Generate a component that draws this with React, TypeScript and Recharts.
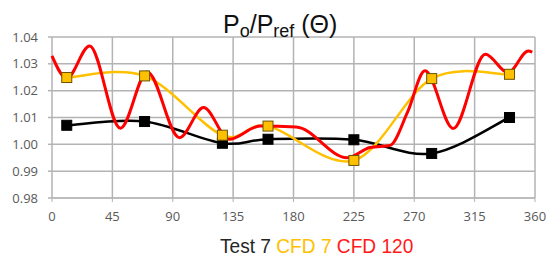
import { LineChart, Line, XAxis, YAxis, CartesianGrid } from "recharts";

// marker angles (deg) shared by Test 7 and CFD 7
const markerAngles = [11, 69, 127, 161, 225, 283, 341];
const test7Values = [1.0071, 1.0085, 1.0004, 1.0019, 1.0017, 0.9966, 1.01];
const cfd7Values = [1.0249, 1.0255, 1.0034, 1.0068, 0.994, 1.0245, 1.0261];

const cfd120Angles = [0, 11, 28, 51, 71, 95, 113, 132, 155, 182, 220, 237, 252, 265, 278, 299, 323, 340, 355, 358];
const cfd120Values = [1.033, 1.0246, 1.0366, 1.006, 1.027, 1.0025, 1.0137, 1.0019, 1.0068, 1.0065, 0.995, 0.9988, 0.9996, 1.012, 1.0274, 1.0059, 1.0336, 1.0267, 1.0348, 1.0344];

const xTicks = [0, 45, 90, 135, 180, 225, 270, 315, 360];
const yTicks = [0.98, 0.99, 1.0, 1.01, 1.02, 1.03, 1.04];

const test7 = markerAngles.map((x, i) => ({ x, v: test7Values[i] }));
const cfd7 = markerAngles.map((x, i) => ({ x, v: cfd7Values[i] }));
const cfd120 = cfd120Angles.map((x, i) => ({ x, v: cfd120Values[i] }));

const GRID = "#b3b3b3";
const LABEL = "#595959";

// Excel-like smoothed line (Catmull-Rom through the points)
function smoothCurve(context: any) {
  let pts: number[][] = [];
  return {
    areaStart() {},
    areaEnd() {},
    lineStart() {
      pts = [];
    },
    point(x: number, y: number) {
      pts.push([+x, +y]);
    },
    lineEnd() {
      if (!pts.length) return;
      context.moveTo(pts[0][0], pts[0][1]);
      for (let i = 0; i < pts.length - 1; i++) {
        const p0 = pts[i - 1] || pts[i];
        const p1 = pts[i];
        const p2 = pts[i + 1];
        const p3 = pts[i + 2] || p2;
        context.bezierCurveTo(
          p1[0] + (p2[0] - p0[0]) / 6,
          p1[1] + (p2[1] - p0[1]) / 6,
          p2[0] - (p3[0] - p1[0]) / 6,
          p2[1] - (p3[1] - p1[1]) / 6,
          p2[0],
          p2[1]
        );
      }
    },
  };
}

function squareDot(fill: string, stroke: string) {
  return (props: any) => {
    const { cx, cy, index } = props;
    return (
      <rect
        key={"sq" + index}
        x={cx - 5}
        y={cy - 5}
        width={10}
        height={10}
        fill={fill}
        stroke={stroke}
        strokeWidth={1}
      />
    );
  };
}

const tickStyle = { fill: LABEL, fontSize: 13, fontFamily: "'Open Sans', sans-serif" };

export default function App() {
  return (
    <div style={{ position: "absolute", left: 0, top: 0, width: 547, height: 257, background: "#fff", overflow: "hidden" }}>
      <LineChart width={547} height={257} margin={{ top: 37, right: 12, bottom: 0, left: 0 }}>
        <CartesianGrid stroke={GRID} strokeWidth={1.5} />
        <XAxis
          dataKey="x"
          type="number"
          domain={[0, 360]}
          ticks={xTicks}
          allowDuplicatedCategory={false}
          height={59}
          tickSize={4}
          tickMargin={10}
          stroke={GRID}
          tick={tickStyle}
        />
        <YAxis
          type="number"
          domain={[0.98, 1.04]}
          ticks={yTicks}
          width={52}
          tickSize={4}
          tickMargin={10}
          axisLine={false}
          tickLine={{ stroke: GRID, strokeWidth: 1.5 }}
          tick={tickStyle}
          tickFormatter={(v: number) => v.toFixed(2)}
        />
        <Line
          data={test7}
          dataKey="v"
          type={smoothCurve as any}
          stroke="#000000"
          strokeWidth={2.5}
          dot={squareDot("#000000", "#000000")}
          isAnimationActive={false}
        />
        <Line
          data={cfd7}
          dataKey="v"
          type={smoothCurve as any}
          stroke="#FFC000"
          strokeWidth={2.5}
          dot={squareDot("#FFC000", "#6b5300")}
          isAnimationActive={false}
        />
        <Line
          data={cfd120}
          dataKey="v"
          type="monotone"
          stroke="#FF0000"
          strokeWidth={3}
          dot={false}
          isAnimationActive={false}
        />
      </LineChart>
      <div
        style={{
          position: "absolute",
          left: 223,
          top: 12,
          fontFamily: "'Liberation Sans', Arial, sans-serif",
          fontSize: 25,
          lineHeight: "25px",
          color: "#111",
          whiteSpace: "nowrap",
        }}
      >
        P<span style={{ fontSize: 18, position: "relative", top: 4 }}>o</span>/P
        <span style={{ fontSize: 18, position: "relative", top: 4 }}>ref</span> (Θ)
      </div>
      <div
        style={{
          position: "absolute",
          left: 220,
          top: 235,
          fontFamily: "'Liberation Sans', Arial, sans-serif",
          fontSize: 21,
          lineHeight: "21px",
          whiteSpace: "nowrap",
          transform: "scaleX(0.91)",
          transformOrigin: "left top",
        }}
      >
        <span style={{ color: "#262626" }}>Test 7</span>{" "}
        <span style={{ color: "#FFC000" }}>CFD 7</span>{" "}
        <span style={{ color: "#FF1A1A" }}>CFD 120</span>
      </div>
    </div>
  );
}
